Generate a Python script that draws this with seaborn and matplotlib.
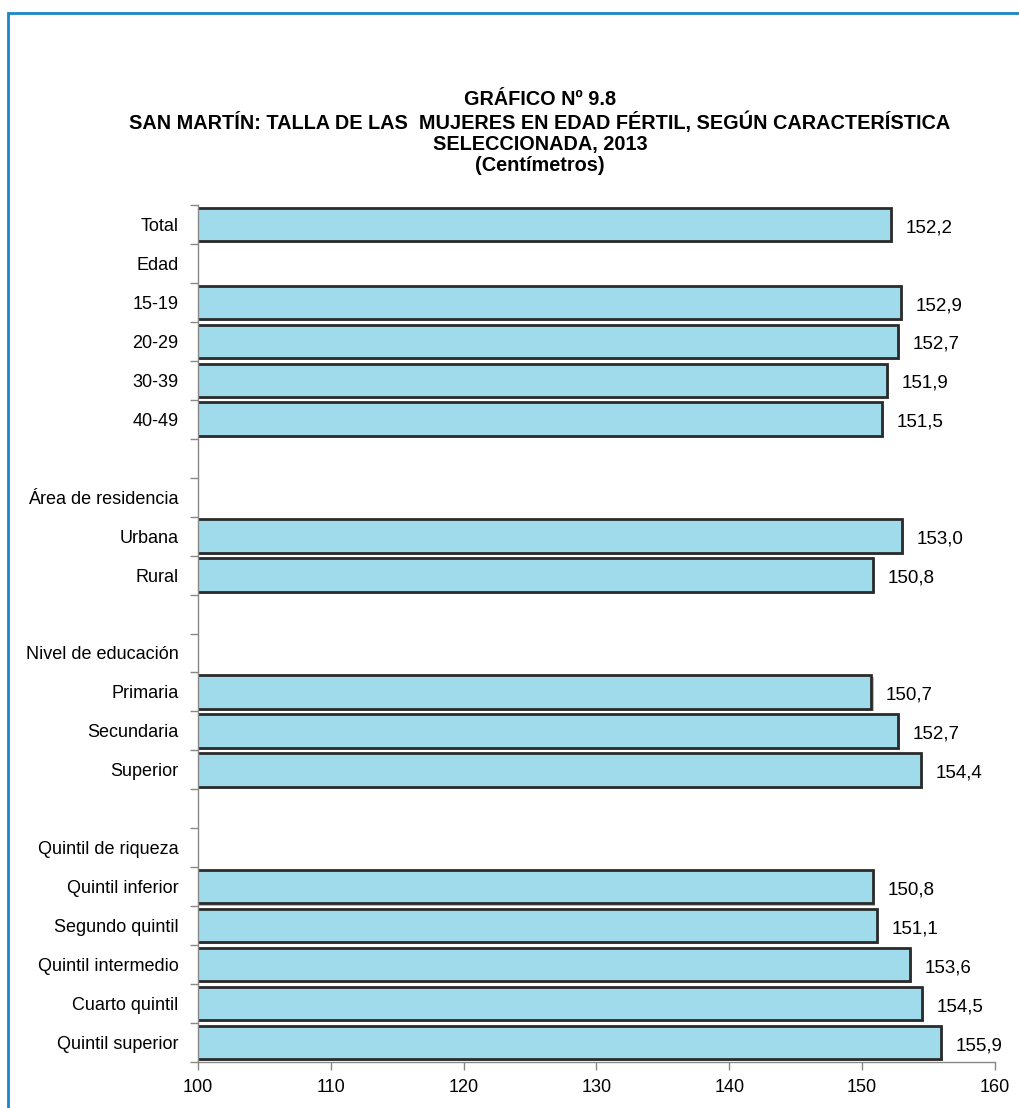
import numpy as np
import pandas as pd
import seaborn as sns
import matplotlib.pyplot as plt
import matplotlib.patheffects as pe
from matplotlib.patches import Rectangle

# Categories (blank rows use distinct whitespace so they stay separate)
categories = ["Total", "Edad", "15-19", "20-29", "30-39", "40-49", " ",
              "Área de residencia", "Urbana", "Rural", "  ",
              "Nivel de educación", "Primaria", "Secundaria", "Superior", "   ",
              "Quintil de riqueza", "Quintil inferior", "Segundo quintil",
              "Quintil intermedio", "Cuarto quintil", "Quintil superior"]
values = [152.2, np.nan, 152.9, 152.7, 151.9, 151.5, np.nan,
          np.nan, 153.0, 150.8, np.nan,
          np.nan, 150.7, 152.7, 154.4, np.nan,
          np.nan, 150.8, 151.1, 153.6, 154.5, 155.9]
x_ticks = [100, 110, 120, 130, 140, 150, 160]

df = pd.DataFrame({"cat": categories, "val": values})

sns.set_style("white")
plt.rcParams["font.family"] = ["Liberation Sans", "DejaVu Sans"]
plt.rcParams["text.color"] = "black"
plt.rcParams["xtick.color"] = "#888888"
plt.rcParams["ytick.color"] = "#888888"
plt.rcParams["xtick.labelcolor"] = "black"
plt.rcParams["ytick.labelcolor"] = "black"

fig = plt.figure(figsize=(10.19, 11.08), dpi=100)
ax = fig.add_axes([198 / 1019, 1 - 1062 / 1108, (995 - 198) / 1019, (1062 - 205) / 1108])

sns.barplot(data=df, y="cat", x="val", orient="h", color="#a0dbec", saturation=1,
            edgecolor="#2b2b2b", linewidth=2, width=0.86, ax=ax, order=categories)
for p in ax.patches:
    p.set_path_effects([pe.SimplePatchShadow(offset=(1.5, -1.5), shadow_rgbFace="#888888", alpha=0.6),
                        pe.Normal()])

ax.set_xlim(100, 160)
ax.set_ylim(len(categories) - 0.5, -0.5)
ax.set_xticks(x_ticks)
ax.set_xticklabels([str(t) for t in x_ticks], fontsize=13)
ax.set_yticks(range(len(categories)))
ax.set_yticklabels(categories, fontsize=13)
ax.set_yticks(np.arange(-0.5, len(categories)), minor=True)
ax.tick_params(axis="y", which="major", length=0, pad=14)
ax.tick_params(axis="y", which="minor", length=6, width=1, left=True)
ax.tick_params(axis="x", length=6, width=1, bottom=True, pad=6)
ax.set_xlabel("")
ax.set_ylabel("")
for s in ["top", "right"]:
    ax.spines[s].set_visible(False)
for s in ["left", "bottom"]:
    ax.spines[s].set_color("#888888")
    ax.spines[s].set_linewidth(1)

for i, v in enumerate(values):
    if not np.isnan(v):
        ax.text(v + 1.1, i + 0.08, f"{v:.1f}".replace(".", ","), va="center", ha="left",
                fontsize=13.5, color="black")

title = ("GRÁFICO Nº 9.8\n"
         "SAN MARTÍN: TALLA DE LAS  MUJERES EN EDAD FÉRTIL, SEGÚN CARACTERÍSTICA\n"
         "SELECCIONADA, 2013\n"
         "(Centímetros)")
fig.text(540 / 1019, 1 - 90 / 1108, title, ha="center", va="top", fontsize=14.3,
         fontweight="bold", linespacing=1.13)

# blue frame (only top and left edges visible)
fig.patches.append(Rectangle((8 / 1019, -0.1), 1.2, 1.1 - 13 / 1108,
                             transform=fig.transFigure, fill=False,
                             edgecolor="#1a86c4", linewidth=2))

fig.savefig("out.png", dpi=100)
